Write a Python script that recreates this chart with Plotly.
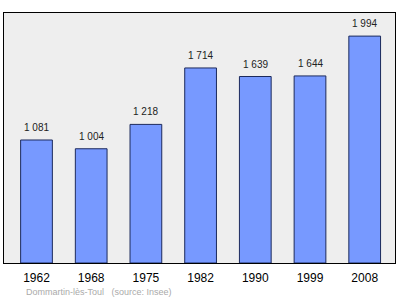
import plotly.graph_objects as go

years = ["1962", "1968", "1975", "1982", "1990", "1999", "2008"]
population = [1081, 1004, 1218, 1714, 1639, 1644, 1994]
labels = ["1 081", "1 004", "1 218", "1 714", "1 639", "1 644", "1 994"]

x = list(range(len(years)))
FONT = "Liberation Sans"

fig = go.Figure()
fig.add_trace(go.Bar(
    x=x, y=population, width=0.58,
    marker=dict(color="#7799ff", line=dict(color="#1c2a5c", width=1)),
    hoverinfo="skip",
))
for xi, v, t in zip(x, population, labels):
    fig.add_annotation(x=xi, y=v, text=t, showarrow=False, yanchor="bottom",
                       yshift=5, font=dict(family=FONT, size=10, color="#222"))

fig.add_annotation(xref="paper", yref="paper", x=0.051, y=-0.116, xanchor="left",
                   yanchor="middle", showarrow=False,
                   text="Dommartin-lès-Toul &nbsp;&nbsp;(source: Insee)",
                   font=dict(family=FONT, size=9, color="#aaaaaa"))

fig.update_layout(
    width=400, height=299,
    margin=dict(l=4, r=5, t=13, b=36),
    paper_bgcolor="white", plot_bgcolor="#eeeeee",
    showlegend=False,
    xaxis=dict(range=[-0.594, 6.554], tickvals=x, ticktext=years,
               showgrid=False, zeroline=False, showline=True, mirror=True,
               linecolor="#000", linewidth=1, ticks="outside", ticklen=4,
               tickcolor="rgba(0,0,0,0)",
               tickfont=dict(family=FONT, size=12, color="#000")),
    yaxis=dict(range=[0, 2197], showticklabels=False, showgrid=False,
               zeroline=False, showline=True, mirror=True,
               linecolor="#000", linewidth=1, ticks=""),
)
fig.write_html("out.html")
